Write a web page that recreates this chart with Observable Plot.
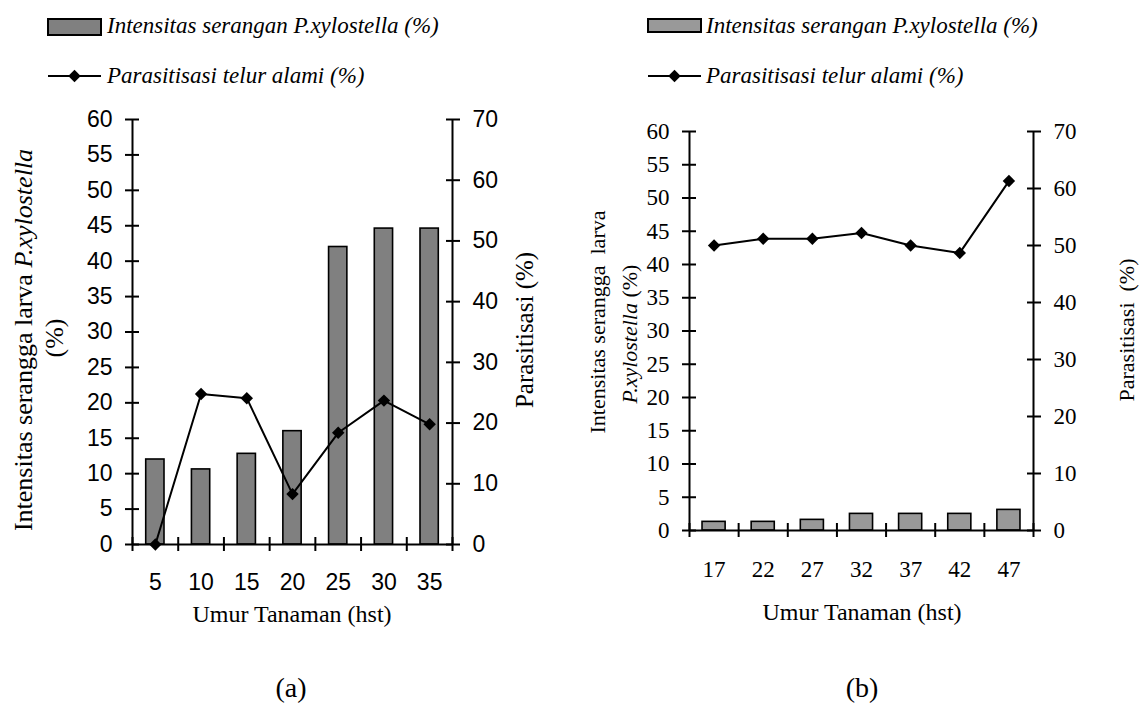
<!DOCTYPE html>
<html><head><meta charset="utf-8">
<script src="https://cdn.jsdelivr.net/npm/d3@7"></script>
<script src="https://cdn.jsdelivr.net/npm/@observablehq/plot@0.6"></script>
<style>
body{margin:0;background:#fff;}
#wrap{display:flex;width:1144px;height:704px;overflow:hidden;}
svg{overflow:visible;}
</style></head><body><div id="wrap"></div>
<script>
// ---- data ----
const agesA = [5, 10, 15, 20, 25, 30, 35];
const intensitasA = [12, 10.6, 12.8, 16, 42, 44.6, 44.6];
const parasitA = [0, 24.8, 24.1, 8.3, 18.4, 23.7, 19.8];
const agesB = [17, 22, 27, 32, 37, 42, 47];
const intensitasB = [1.3, 1.3, 1.6, 2.5, 2.5, 2.5, 3.1];
const parasitB = [50, 51.2, 51.2, 52.2, 50, 48.7, 61.3];
const leftTicks = [0, 5, 10, 15, 20, 25, 30, 35, 40, 45, 50, 55, 60];
const rightTicks = [0, 10, 20, 30, 40, 50, 60, 70];
const legendBar = "Intensitas serangan P.xylostella (%)";
const legendLine = "Parasitisasi telur alami (%)";
const xTitle = "Umur Tanaman (hst)";
const yTitleA = ["Intensitas serangga larva ", "P.xylostella", "(%)"];
const yTitleB = ["Intensitas serangga  larva", "P.xylostella", " (%)"];
const rTitleA = "Parasitisasi (%)";
const rTitleB = "Parasitisasi  (%)";
const panelLabels = ["(a)", "(b)"];

const SERIF = "'Liberation Serif','Times New Roman',serif";
const SANS = "'Liberation Sans',Arial,sans-serif";

function panel(cfg) {
  const ratio = 60 / 70;
  const data = cfg.ages.map((a, i) => ({age: a, bar: cfg.bars[i], par: cfg.line[i] * ratio}));
  const step = cfg.ages[1] - cfg.ages[0];
  const bounds = d3.range(cfg.ages.length + 1).map(i => cfg.ages[0] - step / 2 + i * step);
  const x0 = bounds[0], x1 = bounds[bounds.length - 1];
  const hw = cfg.barFrac * step / 2;
  const fs = 23;
  return Plot.plot({
    width: cfg.W, height: 704,
    marginLeft: cfg.mL, marginRight: cfg.mR, marginTop: cfg.mT, marginBottom: cfg.mB,
    x: {domain: [x0, x1]},
    y: {domain: [0, 60]},
    style: {fontFamily: cfg.tickFont, fontSize: fs + "px", color: "black", background: "white", overflow: "visible"},
    marks: [
      Plot.rectY(data, {x1: d => d.age - hw, x2: d => d.age + hw, y1: 0, y2: "bar", fill: cfg.barFill, stroke: "black", strokeWidth: 1.6}),
      Plot.line(data, {x: "age", y: "par", stroke: "black", strokeWidth: 2}),
      Plot.dot(data, {x: "age", y: "par", symbol: "diamond2", r: 5.6, fill: "black", stroke: null}),
      Plot.ruleX([x0, x1], {y1: 0, y2: 60, stroke: "black", strokeWidth: 2}),
      Plot.ruleY([0], {x1: x0, x2: x1, stroke: "black", strokeWidth: 2}),
      // left axis ticks and labels
      Plot.axisY({anchor: "left", ticks: leftTicks, tickSize: 14, dx: 7, fill: "none", strokeWidth: 2, label: null}),
      Plot.axisY({anchor: "left", ticks: leftTicks, tickSize: 0, tickPadding: 20, label: null, fontSize: fs}),
      // right axis (parasitisasi 0-70) ticks and labels
      Plot.axisY({anchor: "right", ticks: rightTicks.map(t => t * ratio), tickSize: 14, dx: -7, fill: "none", strokeWidth: 2, label: null}),
      Plot.axisY({anchor: "right", ticks: rightTicks.map(t => t * ratio), tickSize: 0, tickPadding: 20, tickFormat: d => Math.round(d / ratio), label: null, fontSize: fs}),
      // x axis
      Plot.axisX({ticks: bounds, tickSize: 14, dy: -7, fill: "none", strokeWidth: 2, label: null}),
      Plot.axisX({ticks: cfg.ages, tickSize: 0, tickPadding: cfg.xPad, tickFormat: d => String(d), label: null, fontSize: fs})
    ]
  });
}

const wrap = document.getElementById("wrap");
const pa = panel({ages: agesA, bars: intensitasA, line: parasitA, W: 572, mL: 132, mR: 120, mT: 119, mB: 160,
  barFrac: 0.4, barFill: "#808080", tickFont: SANS, xPad: 29});
const pb = panel({ages: agesB, bars: intensitasB, line: parasitB, W: 572, mL: 117, mR: 111, mT: 131, mB: 174,
  barFrac: 0.47, barFill: "#999999", tickFont: SERIF, xPad: 30});
wrap.appendChild(pa);
wrap.appendChild(pb);

function legend(svg, o) {
  const g = d3.select(svg).append("g").attr("font-family", SERIF).attr("font-style", "italic").attr("font-size", 23)
    .attr("fill", "black").attr("text-anchor", "start");
  g.append("rect").attr("x", o.sx).attr("y", o.ry).attr("width", 53).attr("height", o.rh)
    .attr("fill", o.fill).attr("stroke", "black").attr("stroke-width", 2);
  g.append("text").attr("x", o.tx).attr("y", 33).attr("text-anchor", "start").text(legendBar);
  g.append("line").attr("x1", o.sx).attr("x2", o.sx + 53).attr("y1", 76).attr("y2", 76).attr("stroke", "black").attr("stroke-width", 2);
  g.append("path").attr("d", d3.symbol(d3.symbolDiamond2, Math.PI * 5.6 * 5.6)()).attr("transform", `translate(${o.sx + 26.5},76)`).attr("fill", "black");
  g.append("text").attr("x", o.tx).attr("y", 83).attr("text-anchor", "start").text(legendLine);
}
legend(pa, {sx: 48, ry: 19, rh: 16, tx: 107, fill: "#808080"});
legend(pb, {sx: 76, ry: 19, rh: 13, tx: 134, fill: "#999999"});

function texts(svg, o) {
  const s = d3.select(svg).append("g").attr("font-family", SERIF).attr("fill", "black");
  const t1 = s.append("text").attr("transform", `translate(${o.l1x},${o.l1y}) rotate(-90)`).attr("text-anchor", "middle").attr("font-size", o.yfs);
  o.l1(t1);
  const t2 = s.append("text").attr("transform", `translate(${o.l2x},${o.l2y}) rotate(-90)`).attr("text-anchor", "middle").attr("font-size", o.yfs);
  o.l2(t2);
  s.append("text").attr("transform", `translate(${o.rx},${o.ry}) rotate(-90)`).attr("text-anchor", "middle").attr("font-size", o.rfs).text(o.rt);
  s.append("text").attr("x", o.xtx).attr("y", o.xty).attr("text-anchor", "middle").attr("font-size", 24).text(xTitle);
  s.append("text").attr("x", o.px).attr("y", 697).attr("text-anchor", "middle").attr("font-size", 28).text(o.plabel);
}
texts(pa, {
  yfs: 26, rfs: 25,
  l1x: 32, l1y: 340, l1: t => { t.append("tspan").text(yTitleA[0]); t.append("tspan").attr("font-style", "italic").text(yTitleA[1]); },
  l2x: 63, l2y: 338, l2: t => { t.append("tspan").text(yTitleA[2]); },
  rx: 533, ry: 330, rt: rTitleA,
  xtx: 292, xty: 622, px: 291, plabel: panelLabels[0]
});
texts(pb, {
  yfs: 22, rfs: 22,
  l1x: 605 - 572, l1y: 322, l1: t => { t.append("tspan").text(yTitleB[0]); },
  l2x: 637 - 572, l2y: 334, l2: t => { t.append("tspan").attr("font-style", "italic").text(yTitleB[1]); t.append("tspan").text(yTitleB[2]); },
  rx: 1134 - 572, ry: 330, rt: rTitleB,
  xtx: 862 - 572, xty: 620, px: 862 - 572, plabel: panelLabels[1]
});
</script>
</body></html>
